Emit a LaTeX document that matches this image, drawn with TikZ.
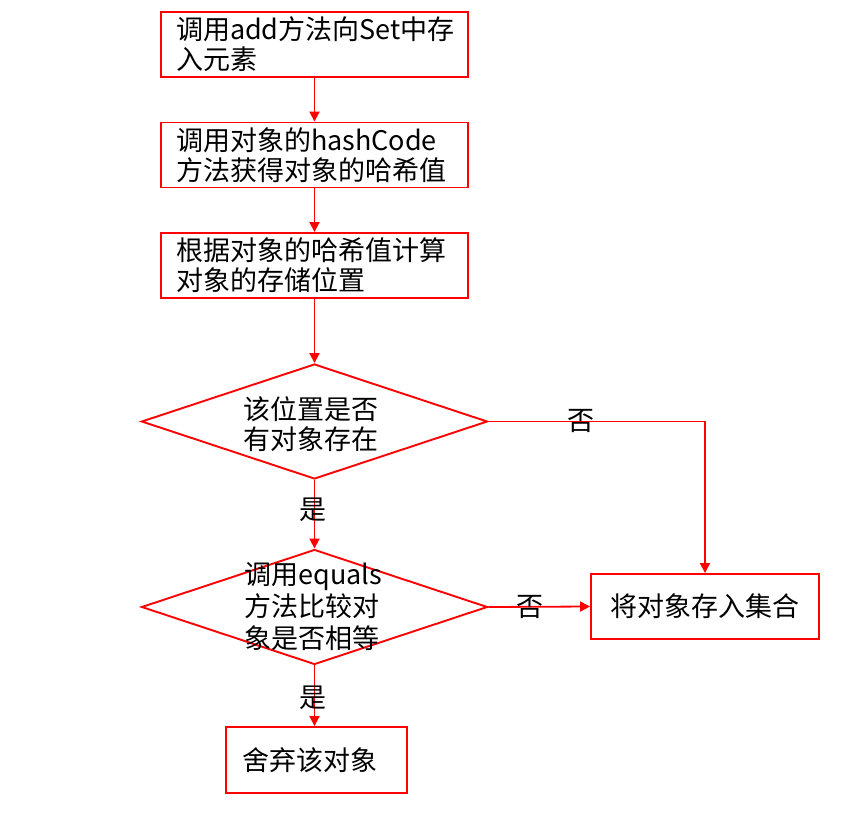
\documentclass[tikz,border=0pt]{standalone}
\usepackage{fontspec}
\setmainfont{Noto Sans CJK SC}
\usetikzlibrary{shapes.geometric,arrows.meta}
\begin{document}
\begin{tikzpicture}[x=1pt,y=-1pt,
  box/.style={draw=red,line width=1.9pt,rectangle,minimum height=65pt,inner ysep=0pt,font=\fontsize{27}{30}\selectfont},
  dia/.style={draw=red,line width=1.9pt,shape=diamond,minimum width=346pt,minimum height=115pt,inner sep=0pt},
  txt/.style={inner sep=0pt,font=\fontsize{27}{30}\selectfont},
  lbl/.style={inner sep=0pt,font=\fontsize{27}{30}\selectfont},
  arr/.style={draw=red,line width=1.8pt,-{Triangle[length=10pt,width=10pt]}}]
\useasboundingbox (0,0) rectangle (844,822);
\node[box,text width=277pt,inner xsep=15pt,align=left] (b1) at (314.5,44.5) {调用add方法向Set中存\\入元素};
\node[box,text width=277pt,inner xsep=15pt,align=left] (b2) at (314.5,155) {调用对象的hashCode\\方法获得对象的哈希值};
\node[box,text width=277pt,inner xsep=15pt,align=left] (b3) at (314.5,265.5) {根据对象的哈希值计算\\对象的存储位置};
\node[dia] (d1) at (314.5,421.5) {};
\node[txt,align=center] (t1) at (311,424) {该位置是否\\有对象存在};
\node[dia] (d2) at (314.5,607) {};
\node[txt,align=left,text width=135pt,font=\fontsize{27}{32}\selectfont] (t2) at (312,607) {调用equals\\方法比较对\\象是否相等};
\node[box,minimum width=228pt,align=center] (b4) at (705,606.5) {将对象存入集合};
\node[box,text width=149pt,inner xsep=16pt,minimum height=66pt,align=left] (b5) at (316.5,760) {舍弃该对象};
\draw[arr] (b1.south) -- (b2.north);
\draw[arr] (b2.south) -- (b3.north);
\draw[arr] (b3.south) -- (d1.north);
\draw[arr] (d1.south) -- (d2.north);
\node[lbl] (y1) at (313,510) {是};
\draw[arr] (d2.south) -- (d2.south |- b5.north);
\node[lbl] (y2) at (313,698) {是};
\draw[arr] (d1.east) -| (b4.north);
\node[lbl] (n1) at (581,421) {否};
\draw[arr] (d2.east) -- (b4.west);
\node[lbl] (n2) at (530,607) {否};
\end{tikzpicture}
\end{document}
